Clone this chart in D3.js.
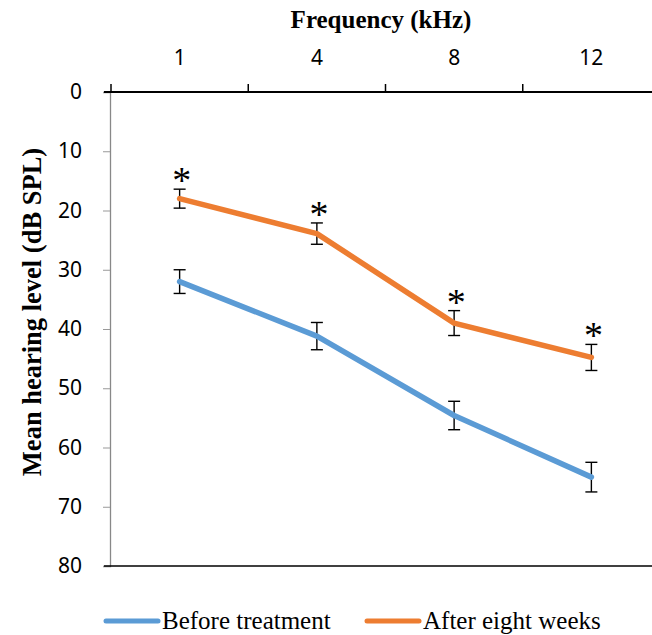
<!DOCTYPE html>
<html>
<head>
<meta charset="utf-8">
<script src="https://cdn.jsdelivr.net/npm/d3@7"></script>
<style>
body { margin: 0; background: #fff; }
</style>
</head>
<body>
<svg id="chart" width="652" height="635"></svg>
<script>
var freqs = ["1", "4", "8", "12"];
var before = [32, 41.2, 54.6, 65];
var beforeErr = [2, 2.3, 2.4, 2.5];
var after = [18, 23.9, 39, 44.8];
var afterErr = [1.6, 1.8, 2.1, 2.2];
var yTicks = [0, 10, 20, 30, 40, 50, 60, 70, 80];
var seriesNames = ["Before treatment", "After eight weeks"];
var colors = ["#5B9BD5", "#ED7D31"];

var svg = d3.select("#chart");
var padL = 110, padT = 92, padB = 566;

var x = d3.scaleBand().domain(freqs).range([111, 660]);
var y = d3.scaleLinear().domain([0, 80]).range([padT, padB]);

var tickFont = "'Noto Sans', sans-serif";
var serif = "'Liberation Serif', 'Times New Roman', serif";

// y axis
var ya = svg.append("g").attr("transform", "translate(" + padL + ",0)")
    .call(d3.axisLeft(y).tickValues(yTicks).tickSize(7).tickPadding(21));
ya.select(".domain").attr("stroke", "#888").attr("stroke-width", 1.3);
ya.selectAll(".tick line").attr("stroke", "#999");
ya.selectAll("text").attr("font-family", tickFont).attr("font-size", 21)
    .attr("font-weight", 400).attr("fill", "#000");

// bottom line
svg.append("line").attr("x1", padL - 6).attr("x2", 652)
    .attr("y1", padB).attr("y2", padB)
    .attr("stroke", "#000").attr("stroke-width", 1.6);

// top x axis
var xa = svg.append("g").attr("transform", "translate(0," + padT + ")")
    .call(d3.axisTop(x).tickSize(0).tickPadding(27));
xa.select(".domain").remove();
xa.selectAll("text").attr("font-family", tickFont).attr("font-size", 21)
    .attr("font-weight", 400).attr("fill", "#000");
svg.append("line").attr("x1", padL - 6).attr("x2", 652)
    .attr("y1", padT).attr("y2", padT)
    .attr("stroke", "#000").attr("stroke-width", 2);
svg.append("g").selectAll("line").data(freqs).enter().append("line")
    .attr("x1", d => x(d)).attr("x2", d => x(d))
    .attr("y1", padT - 8).attr("y2", padT)
    .attr("stroke", "#000").attr("stroke-width", 1.5);

svg.append("text").attr("x", 381).attr("y", 28).attr("text-anchor", "middle")
    .attr("font-family", serif).attr("font-weight", "bold").attr("font-size", 25)
    .text("Frequency (kHz)");

svg.append("text").attr("transform", "translate(41,312) rotate(-90)")
    .attr("text-anchor", "middle")
    .attr("font-family", serif).attr("font-weight", "bold").attr("font-size", 26.5)
    .text("Mean hearing level (dB SPL)");

var cx = d => x(d) + x.bandwidth() / 2;
var series = [
  { vals: before, err: beforeErr, star: false },
  { vals: after, err: afterErr, star: true }
];

var line = d3.line().x((d, i) => cx(freqs[i])).y(d => y(d));

series.forEach(function (s, k) {
  var g = svg.append("g");
  var eb = g.selectAll("g").data(s.vals).enter().append("g")
      .attr("stroke", "#000").attr("stroke-width", 1.4);
  eb.append("line").attr("x1", (d, i) => cx(freqs[i])).attr("x2", (d, i) => cx(freqs[i]))
      .attr("y1", (d, i) => y(d - s.err[i])).attr("y2", (d, i) => y(d + s.err[i]));
  [-1, 1].forEach(function (sg) {
    eb.append("line").attr("x1", (d, i) => cx(freqs[i]) - 6).attr("x2", (d, i) => cx(freqs[i]) + 6)
        .attr("y1", (d, i) => y(d + sg * s.err[i])).attr("y2", (d, i) => y(d + sg * s.err[i]));
  });
  g.append("path").datum(s.vals).attr("d", line)
      .attr("fill", "none").attr("stroke", colors[k]).attr("stroke-width", 5.5)
      .attr("stroke-linecap", "round").attr("stroke-linejoin", "round");
  if (s.star) {
    g.selectAll("text").data(s.vals).enter().append("text")
        .attr("x", (d, i) => cx(freqs[i]) + 2)
        .attr("y", (d, i) => y(d - s.err[i]) + 4)
        .attr("text-anchor", "middle")
        .attr("font-family", serif).attr("font-size", 38)
        .text("*");
  }
});

// legend
var legX = [106, 367];
var lg = svg.append("g").selectAll("g").data(seriesNames).enter().append("g")
    .attr("transform", (d, i) => "translate(" + legX[i] + ",621)");
lg.append("line").attr("x1", 0).attr("x2", 52).attr("stroke", (d, i) => colors[i])
    .attr("stroke-width", 5).attr("stroke-linecap", "round");
lg.append("text").attr("x", 56).attr("y", 8)
    .attr("font-family", serif).attr("font-size", 25).text(d => d);
</script>
</body>
</html>
